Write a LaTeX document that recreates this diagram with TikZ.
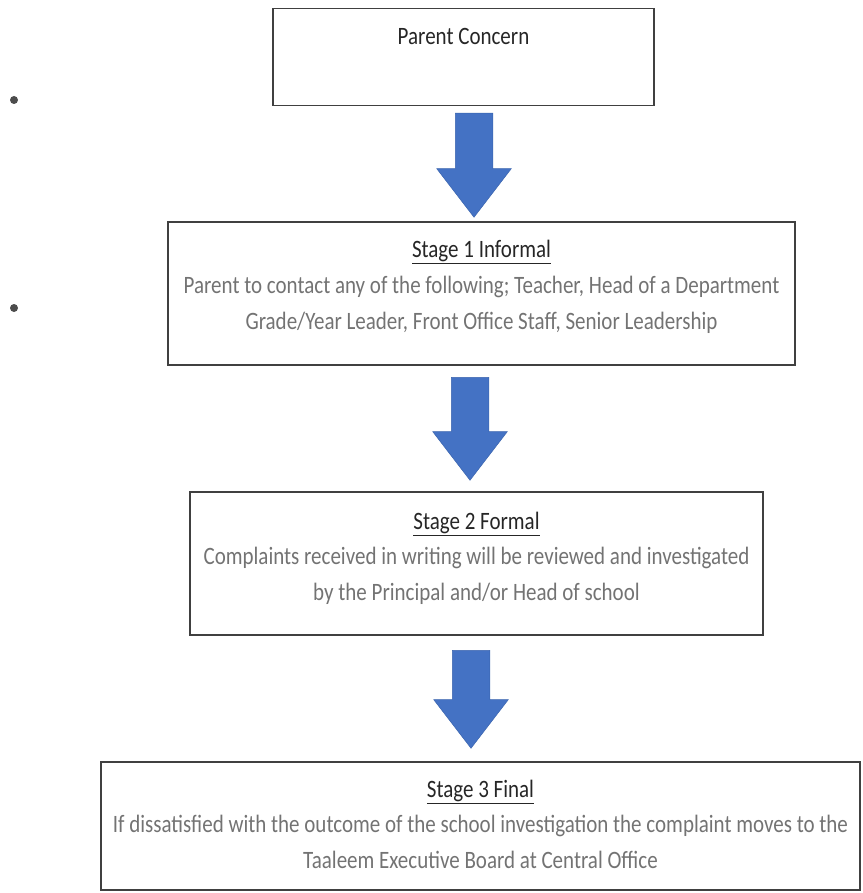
\documentclass[tikz,border=0pt]{standalone}
\usepackage{fontspec}
\setmainfont{Carlito}[FakeStretch=0.84]
\usetikzlibrary{shapes.arrows,positioning}
\definecolor{officeblue}{HTML}{4472C4}
\definecolor{arrowedge}{HTML}{3A64AE}
\begin{document}
\begin{tikzpicture}[x=1pt, y=-1pt, font=\fontsize{25}{36}\selectfont,
  box/.style={draw=black!75, line width=1.6pt, inner sep=0pt},
  ttl/.style={anchor=base, inner sep=0pt, text=black!85},
  txt/.style={align=center, anchor=north, inner sep=0pt, text=black!55},
  blk/.style={single arrow, shape border rotate=270, anchor=tail,
              fill=officeblue, draw=arrowedge, line width=0.5pt,
              inner sep=18.5pt, single arrow head extend=18.5pt,
              single arrow tip angle=75, minimum height=#1},
  dot/.style={circle, fill=black!70, inner sep=0pt, minimum size=8pt}
]
  \useasboundingbox (0,0) rectangle (862,893);
  % boxes
  \node[box, minimum width=381pt, minimum height=97pt]  (concern) at (463.5,57) {};
  \node[box, minimum width=627pt, minimum height=143pt] (stage1)  at (481.5,293.5) {};
  \node[box, minimum width=573pt, minimum height=143pt] (stage2)  at (476.5,563.5) {};
  \node[box, minimum width=759pt, minimum height=128pt] (stage3)  at (480.5,826) {};
  % texts
  \node[ttl] (t0) at (463.5,45)  {Parent Concern};
  \node[ttl] (t1) at (481.5,258) {\underline{Stage 1 Informal}};
  \node[txt, below=11pt of t1] (b1)
    {Parent to contact any of the following; Teacher, Head of a Department\\
     Grade/Year Leader, Front Office Staff, Senior Leadership};
  \node[ttl] (t2) at (476.5,529) {\underline{Stage 2 Formal}};
  \node[txt, below=11pt of t2] (b2)
    {Complaints received in writing will be reviewed and investigated\\
     by the Principal and/or Head of school};
  \node[ttl] (t3) at (480.5,797) {\underline{Stage 3 Final}};
  \node[txt, below=11pt of t3] (b3)
    {If dissatisfied with the outcome of the school investigation the complaint moves to the\\
     Taaleem Executive Board at Central Office};
  % block arrows
  \node[blk=104pt] (a1) at (474,113) {};
  \node[blk=103pt] (a2) at (470,377) {};
  \node[blk=98pt]  (a3) at (471,650) {};
  % bullets
  \node[dot] (d1) at (14,100) {};
  \node[dot] (d2) at (14,308) {};
\end{tikzpicture}
\end{document}
